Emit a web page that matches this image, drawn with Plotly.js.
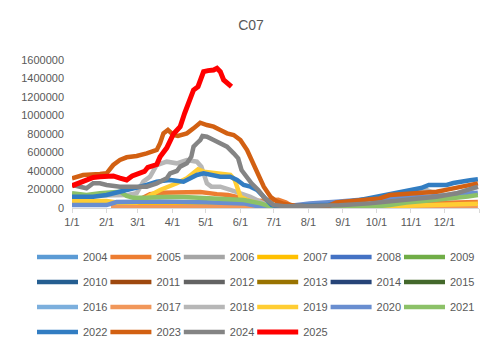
<!DOCTYPE html>
<html>
<head>
<meta charset="utf-8">
<script src="https://cdn.plot.ly/plotly-3.0.1.min.js"></script>
<style>html,body{margin:0;padding:0;background:#fff;}#chart{width:502px;height:354px;}</style>
</head>
<body>
<div id="chart"></div>
<script>
// Day-of-year tick positions and labels
const monthDays = [0, 31, 59, 90, 120, 151, 181, 212, 243, 273, 304, 334, 365];
const monthLabels = ['1/1', '2/1', '3/1', '4/1', '5/1', '6/1', '7/1', '8/1', '9/1', '10/1', '11/1', '12/1', ''];

const years = ['2004','2005','2006','2007','2008','2009','2010','2011','2012','2013','2014','2015',
               '2016','2017','2018','2019','2020','2021','2022','2023','2024','2025'];
const colors = ['#5B9BD5','#ED7D31','#A5A5A5','#FFC000','#4472C4','#70AD47','#255E91','#9E480E','#636363','#997300','#264478','#43682B',
                '#7CAFDD','#F1975A','#B7B7B7','#FFCD33','#698ED0','#8CC168','#327DC2','#D26012','#848484','#FF0000'];

// Series: day-of-year and value
const d2005 = [40, 55, 62, 70, 80, 100, 115, 130, 140, 150, 160, 167, 175, 185, 192, 197, 205, 280, 310, 327, 364];
const v2005 = [5000, 40000, 100000, 150000, 165000, 170000, 172000, 150000, 140000, 115000, 100000, 75000, 85000, 90000, 60000, 20000, 0, 10000, 30000, 55000, 65000];

const d2007 = [33, 60, 100, 140, 160, 175];
const v2007 = [45000, 40000, 40000, 35000, 20000, 0];

const d2017 = [35, 60, 100, 140, 170, 181, 250, 364];
const v2017 = [8000, 12000, 12000, 10000, 5000, 0, 3000, 8000];

const d2018 = [0, 30, 50, 58, 61, 64, 70, 76, 85, 94, 103, 112, 116, 121, 125, 133, 142, 151, 160, 169, 178, 185, 210, 240, 270, 297, 305, 312, 318, 325, 335, 345, 364];
const v2018 = [130000, 135000, 140000, 160000, 231000, 285000, 339000, 465000, 501000, 483000, 519000, 501000, 447000, 267000, 231000, 231000, 195000, 159000, 122000, 68000, 14000, 0, 15000, 30000, 50000, 86000, 140000, 195000, 195000, 160000, 140000, 160000, 225000];

const d2019 = [0, 31, 40, 58, 64, 70, 79, 88, 94, 103, 109, 113, 118, 127, 133, 142, 146, 149, 151, 157, 166, 175, 181, 240, 270, 300, 330, 364];
const v2019 = [75000, 75000, 60000, 60000, 86000, 137000, 195000, 231000, 267000, 321000, 375000, 418000, 393000, 375000, 375000, 357000, 303000, 195000, 122000, 86000, 50000, 14000, 0, 5000, 15000, 25000, 35000, 45000];

const d2020 = [0, 31, 40, 58, 79, 120, 154, 169, 181, 200, 213, 237, 255, 270, 300, 330, 364];
const v2020 = [32000, 32000, 65000, 70000, 70000, 62000, 50000, 14000, 10000, 30000, 50000, 68000, 90000, 100000, 110000, 130000, 165000];

const d2021 = [0, 13, 25, 37, 43, 49, 55, 67, 80, 100, 120, 140, 154, 169, 181, 240, 270, 285, 300, 320, 340, 355, 364];
const v2021 = [159000, 141000, 159000, 176000, 176000, 130000, 110000, 112000, 120000, 118000, 110000, 100000, 86000, 50000, 5000, 8000, 15000, 32000, 60000, 80000, 100000, 125000, 140000];

const d2022 = [0, 19, 31, 43, 55, 67, 76, 88, 100, 106, 112, 118, 127, 133, 142, 148, 154, 160, 166, 172, 179, 185, 200, 230, 255, 270, 285, 300, 306, 313, 320, 336, 342, 348, 357, 364];
const v2022 = [122000, 122000, 141000, 176000, 213000, 249000, 285000, 303000, 285000, 321000, 357000, 375000, 357000, 339000, 339000, 303000, 249000, 231000, 195000, 122000, 32000, 15000, 20000, 35000, 80000, 115000, 140000, 180000, 195000, 216000, 249000, 249000, 270000, 285000, 300000, 310000];

const d2023 = [0, 10, 25, 31, 37, 43, 49, 58, 67, 76, 79, 82, 86, 91, 95, 103, 109, 115, 121, 127, 133, 139, 145, 151, 157, 161, 166, 172, 178, 184, 190, 200, 215, 230, 237, 245, 260, 276, 285, 303, 327, 342, 357, 364];
const v2023 = [321000, 357000, 368000, 375000, 465000, 519000, 548000, 562000, 591000, 627000, 700000, 807000, 843000, 789000, 780000, 807000, 861000, 922000, 897000, 879000, 843000, 807000, 789000, 735000, 627000, 519000, 375000, 231000, 122000, 68000, 45000, 25000, 15000, 20000, 60000, 70000, 85000, 104000, 140000, 158000, 176000, 212000, 248000, 266000];

const d2024 = [0, 7, 13, 19, 25, 31, 43, 55, 67, 76, 85, 88, 94, 97, 103, 107, 109, 112, 115, 117, 121, 127, 133, 139, 145, 149, 152, 157, 161, 167, 173, 181, 190, 210, 240, 267, 297, 327, 345, 357, 364];
const v2024 = [249000, 231000, 213000, 267000, 267000, 249000, 231000, 231000, 231000, 267000, 321000, 375000, 400000, 447000, 483000, 555000, 663000, 700000, 735000, 778000, 771000, 735000, 700000, 663000, 591000, 537000, 411000, 321000, 267000, 195000, 104000, 32000, 20000, 22000, 30000, 50000, 86000, 122000, 159000, 202000, 231000];

const d2025 = [0, 6, 13, 19, 25, 31, 37, 43, 49, 54, 61, 65, 68, 73, 76, 79, 85, 91, 97, 101, 106, 109, 113, 116, 118, 122, 127, 130, 133, 136, 139, 143];
const v2025 = [240000, 270000, 303000, 330000, 338000, 340000, 346000, 322000, 303000, 346000, 375000, 395000, 440000, 462000, 470000, 555000, 650000, 800000, 879000, 1024000, 1168000, 1276000, 1311000, 1420000, 1474000, 1485000, 1492000, 1510000, 1474000, 1384000, 1348000, 1311000];

// Years shown in the legend but with no visible data
const noData = [[null], [null]];

const seriesData = {
  '2005': [d2005, v2005], '2007': [d2007, v2007], '2017': [d2017, v2017], '2018': [d2018, v2018],
  '2019': [d2019, v2019], '2020': [d2020, v2020], '2021': [d2021, v2021], '2022': [d2022, v2022],
  '2023': [d2023, v2023], '2024': [d2024, v2024], '2025': [d2025, v2025]
};

// One vertical legend per column (6 columns)
const legendNames = ['legend', 'legend2', 'legend3', 'legend4', 'legend5', 'legend6'];
const traces = years.map((yr, i) => {
  const s = seriesData[yr] || noData;
  return {
    type: 'scatter', mode: 'lines', name: yr,
    x: s[0], y: s[1],
    line: {color: colors[i], width: yr === '2025' ? 5 : 4.5, shape: 'linear'},
    legend: legendNames[i % 6], legendgroup: 'g' + yr,
    hoverinfo: 'skip'
  };
});

const font = {family: 'Liberation Sans, Arial, sans-serif', size: 11, color: '#595959'};
const colPitch = 73.4, plotLeft = 72, plotWidth = 407;
function legendCol(k) {
  return {
    orientation: 'v', x: (32 + colPitch * k - plotLeft) / plotWidth, xanchor: 'left',
    y: (208 - 242.5) / 148, yanchor: 'top',
    itemwidth: 41, tracegroupgap: 6,
    font: font, bgcolor: 'rgba(0,0,0,0)', borderwidth: 0, traceorder: 'grouped',
    itemclick: false, itemdoubleclick: false
  };
}

const layout = {
  width: 502, height: 354,
  margin: {l: 72, r: 23, t: 60, b: 146, autoexpand: false},
  paper_bgcolor: '#ffffff', plot_bgcolor: '#ffffff',
  font: font,
  title: {text: 'C07', font: {family: 'Liberation Sans, Arial, sans-serif', size: 14, color: '#595959'},
          x: 0.5, xref: 'container', xanchor: 'center', y: 1 - 25 / 354, yref: 'container', yanchor: 'middle'},
  xaxis: {
    range: [0, 365], tickmode: 'array', tickvals: monthDays, ticktext: monthLabels,
    showgrid: false, zeroline: false, showline: true, linecolor: '#D9D9D9', linewidth: 1,
    ticks: 'outside', ticklen: 4, tickcolor: '#D9D9D9', tickfont: font, fixedrange: true
  },
  yaxis: {
    range: [0, 1600000], dtick: 200000, tick0: 0, tickformat: 'd',
    showgrid: false, zeroline: false, showline: false, ticks: '', tickfont: font,
    ticklabelstandoff: 7, fixedrange: true
  },
  showlegend: true,
  legend: legendCol(0), legend2: legendCol(1), legend3: legendCol(2),
  legend4: legendCol(3), legend5: legendCol(4), legend6: legendCol(5)
};

Plotly.newPlot('chart', traces, layout, {displayModeBar: false, staticPlot: true});
</script>
</body>
</html>
